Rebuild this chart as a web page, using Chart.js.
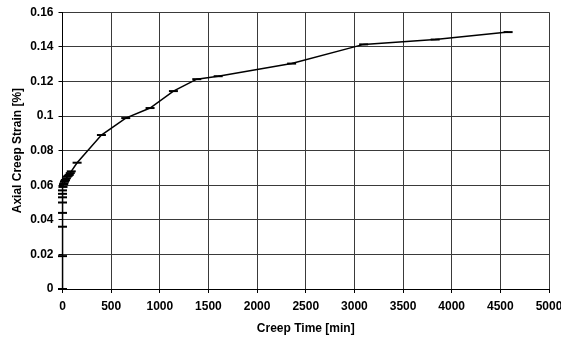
<!DOCTYPE html>
<html>
<head>
<meta charset="utf-8">
<script src="https://cdn.jsdelivr.net/npm/chart.js@4/dist/chart.umd.min.js"></script>
<style>
  html, body { margin: 0; padding: 0; background: #fff; }
  #wrap { width: 561px; height: 341px; }
</style>
</head>
<body>
<div id="wrap"><canvas id="creepChart"></canvas></div>
<script>
// 1. Data (creep time [min] vs axial creep strain [%])
const creepTime = [0, 0, 0, 0, 0, 0, 0, 0, 5, 10, 15, 20, 25, 30, 40, 50, 60, 70, 80, 90,
    150, 400, 650, 900, 1140, 1380, 1600, 2355, 3095, 3830, 4580];
const creepStrain = [0, 0.019, 0.036, 0.044, 0.050, 0.053, 0.055, 0.057, 0.059, 0.0605, 0.061, 0.062, 0.0625, 0.063, 0.064, 0.065, 0.0655, 0.066, 0.067, 0.068,
    0.073, 0.089, 0.0988, 0.1046, 0.1144, 0.1213, 0.123, 0.1303, 0.1414, 0.1442, 0.1485];

// 2. Axis tick labels
const xTickLabels = ['0', '500', '1000', '1500', '2000', '2500', '3000', '3500', '4000', '4500', '5000'];
const yTickLabels = ['0', '0.02', '0.04', '0.06', '0.08', '0.1', '0.12', '0.14', '0.16'];

const FONT = { family: '"Liberation Sans", Arial, sans-serif', size: 12, weight: 'bold' };
const GRID = '#3a3a3a';

const points = creepTime.map((t, i) => ({ x: t, y: creepStrain[i] }));

// 3. Draw
new Chart(document.getElementById('creepChart'), {
    type: 'line',
    data: {
        datasets: [{
            data: points,
            clip: false,
            borderColor: '#000',
            borderWidth: 1.5,
            tension: 0,
            pointStyle: 'line',
            pointRadius: 4.5,
            pointBorderWidth: 2,
            pointBorderColor: '#000',
            pointBackgroundColor: '#000'
        }]
    },
    options: {
        responsive: true,
        maintainAspectRatio: false,
        animation: false,
        layout: { padding: { left: 6, right: 12, top: 12, bottom: 1 } },
        plugins: { legend: { display: false }, tooltip: { enabled: false } },
        scales: {
            x: {
                type: 'linear',
                min: 0,
                max: 5000,
                // keep the last label from pushing the plot area inwards
                afterFit: s => { s.height = 51; s.paddingLeft = 0; s.paddingRight = 0; },
                ticks: {
                    stepSize: 500,
                    color: '#000',
                    font: FONT,
                    padding: 6,
                    maxRotation: 0,
                    callback: (v, i) => xTickLabels[i]
                },
                grid: { color: GRID, tickLength: 4, tickColor: '#000' },
                border: { color: '#000' },
                title: { display: true, text: 'Creep Time [min]', color: '#000', font: FONT, padding: { top: 4, bottom: 4 } }
            },
            y: {
                type: 'linear',
                min: 0,
                max: 0.16,
                afterFit: s => { s.width = 56.5; },
                ticks: {
                    stepSize: 0.02,
                    color: '#000',
                    font: FONT,
                    padding: 5,
                    callback: (v, i) => yTickLabels[i]
                },
                grid: { color: GRID, tickLength: 4, tickColor: '#000' },
                border: { color: '#000' },
                title: { display: true, text: 'Axial Creep Strain [%]', color: '#000', font: FONT, padding: { top: 4, bottom: 4 } }
            }
        }
    }
});
</script>
</body>
</html>
